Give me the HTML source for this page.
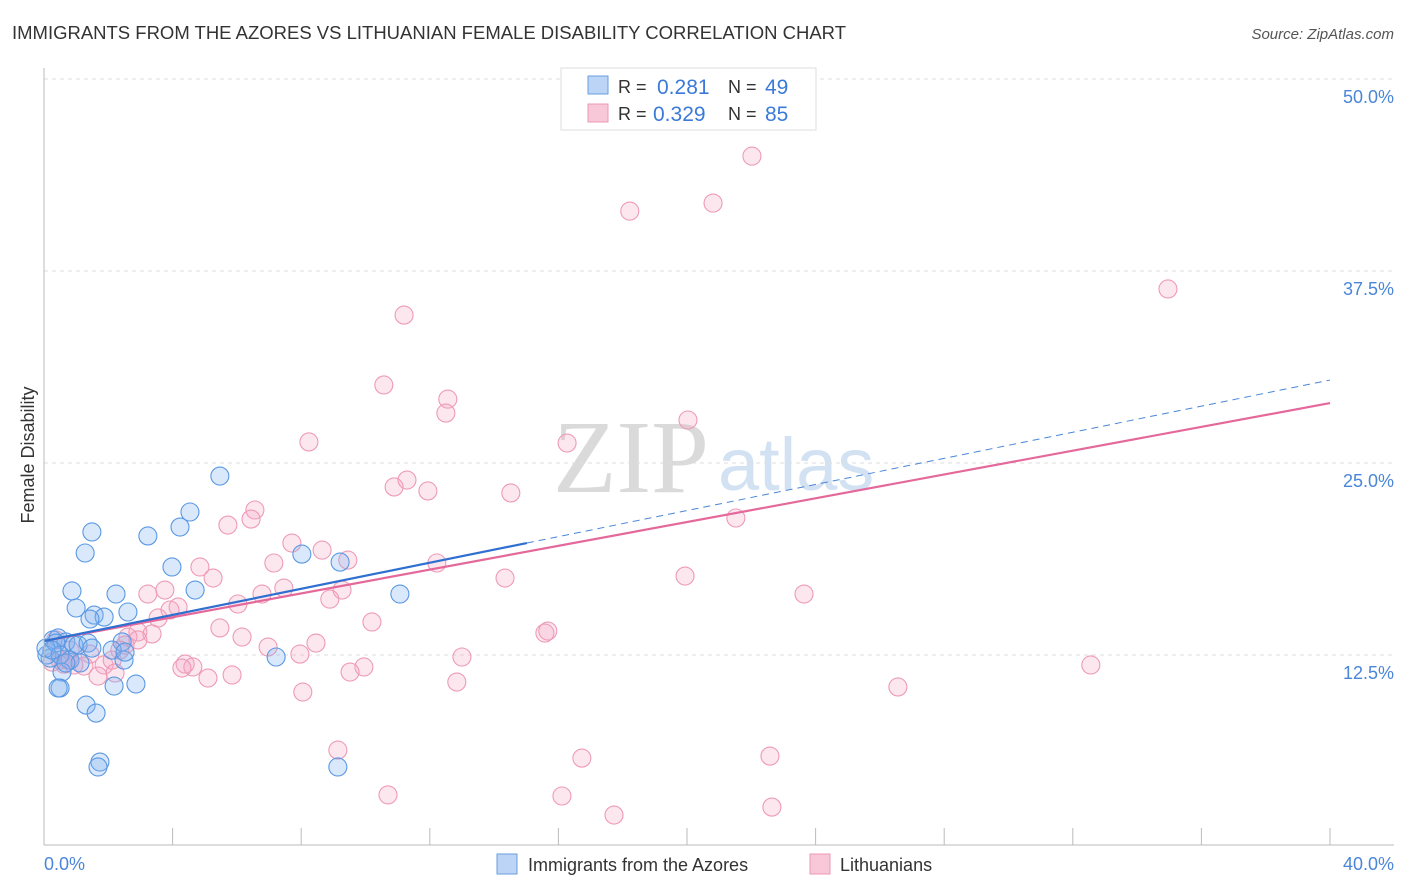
<!DOCTYPE html>
<html><head><meta charset="utf-8"><style>
body{margin:0;background:#fff;font-family:"Liberation Sans",sans-serif}
svg{display:block}
</style></head><body>
<svg id="chart" width="1406" height="892">
<text x="12" y="39" font-size="18" fill="#333" textLength="834" lengthAdjust="spacingAndGlyphs">IMMIGRANTS FROM THE AZORES VS LITHUANIAN FEMALE DISABILITY CORRELATION CHART</text>
<text x="1394" y="39" font-size="15" fill="#555" font-style="italic" text-anchor="end">Source: ZipAtlas.com</text>
<text x="553" y="492" font-size="104" fill="#dadada" font-family="Liberation Serif,serif">ZIP</text>
<text x="718" y="490" font-size="74" fill="#d2e2f3">atlas</text>
<text transform="translate(34,455) rotate(-90)" font-size="18" fill="#333" text-anchor="middle">Female Disability</text>
<g id="grid"></g><g id="pts"></g><g id="lines"></g>
<line x1="44" y1="845" x2="1394" y2="845" stroke="#bbb"/>
<line x1="44" y1="68" x2="44" y2="845" stroke="#bbb"/>
<text x="44" y="870" font-size="18" fill="#4a86d8">0.0%</text>
<text x="1394" y="870" font-size="18" fill="#4a86d8" text-anchor="end">40.0%</text>
<g>
<rect x="561" y="68" width="255" height="62" fill="#fff" stroke="#ddd"/>
<rect x="588" y="76" width="20" height="18" fill="#bcd4f5" stroke="#6a9ee0"/>
<rect x="588" y="104" width="20" height="18" fill="#f8c8d8" stroke="#ec98b4"/>
<text x="618" y="93" font-size="18" fill="#333">R =</text>
<text x="657" y="94" font-size="21" fill="#3b7ad8">0.281</text>
<text x="728" y="93" font-size="18" fill="#333">N =</text>
<text x="765" y="94" font-size="21" fill="#3b7ad8">49</text>
<text x="618" y="120" font-size="18" fill="#333">R =</text>
<text x="653" y="121" font-size="21" fill="#3b7ad8">0.329</text>
<text x="728" y="120" font-size="18" fill="#333">N =</text>
<text x="765" y="121" font-size="21" fill="#3b7ad8">85</text>
</g>
<g>
<rect x="497" y="854" width="20" height="20" fill="#bcd4f5" stroke="#6a9ee0"/>
<text x="528" y="871" font-size="18" fill="#333">Immigrants from the Azores</text>
<rect x="810" y="854" width="20" height="20" fill="#f8c8d8" stroke="#ec98b4"/>
<text x="840" y="871" font-size="18" fill="#333">Lithuanians</text>
</g>
</svg>
<script>
const yTicks=[12.5,25,37.5,50];
const yTickLabels=["12.5%","25.0%","37.5%","50.0%"];
const xTicks=[4,8,12,16,20,24,28,32,36,40];
const blueX=[5.47,4.54,4.23,1.49,3.23,1.28,8.02,3.98,9.21,0.87,2.24,4.70,11.07,1.00,2.61,1.56,1.87,1.43,0.28,0.44,0.68,0.93,1.06,1.37,2.43,2.12,0.81,1.12,2.49,0.19,0.09,7.22,0.56,0.50,0.44,2.18,2.86,1.31,1.62,1.74,1.68,9.14,0.37,0.06,0.50,0.25,0.68,2.52,1.49];
const blueY=[24.15,21.81,20.83,20.51,20.25,19.14,19.07,18.23,18.55,16.67,16.47,16.73,16.47,15.56,15.30,15.10,14.97,14.84,13.48,13.61,13.35,13.15,13.15,13.28,13.35,12.82,12.17,11.98,12.17,12.30,12.50,12.37,11.39,10.35,10.35,10.48,10.61,9.24,8.72,5.53,5.21,5.21,13.28,12.95,12.50,12.82,11.98,12.69,12.95];
const pinkX=[22.02,20.81,18.22,34.96,11.20,10.57,12.56,12.50,8.24,20.03,16.27,11.29,10.89,11.94,14.52,6.56,6.44,21.52,5.72,7.71,8.65,9.45,4.85,7.15,12.22,14.34,19.94,5.26,7.46,3.76,9.27,6.78,3.23,23.64,8.89,6.03,4.17,3.92,3.55,10.20,5.47,2.92,3.36,2.61,6.16,15.58,15.67,6.97,8.46,2.52,7.96,13.00,1.43,1.87,2.12,4.39,4.63,4.29,1.24,9.95,9.52,5.85,5.10,2.21,1.68,32.56,12.84,26.56,8.05,9.14,16.73,22.58,10.70,16.11,22.64,17.73,0.50,0.62,0.25,0.75,0.93,0.37,0.81,2.92,2.36];
const pinkY=[44.98,41.92,41.40,36.33,34.63,30.08,29.16,28.25,26.37,27.80,26.30,23.89,23.44,23.18,23.05,21.94,21.35,21.42,20.96,19.79,19.33,18.68,18.23,18.49,18.49,17.51,17.64,17.51,16.86,16.73,16.73,16.47,16.47,16.47,16.14,15.82,15.62,15.43,14.91,14.65,14.26,14.00,13.87,13.67,13.67,13.93,14.06,13.02,13.28,13.15,12.56,12.37,12.56,11.85,12.17,11.91,11.72,11.65,11.78,11.72,11.39,11.20,11.00,11.33,11.13,11.85,10.74,10.42,10.09,6.31,5.79,5.92,3.39,3.32,2.60,2.08,12.17,11.91,12.04,12.17,11.85,13.48,12.82,13.48,12.82];
const blueLine=[13.41,30.4];const blueSolidEnd=15.02;
const pinkLine=[13.41,28.9];
const NS="http://www.w3.org/2000/svg";
const sx=v=>44+v/40*1286, sy=v=>847-v*15.36;
function mk(t,a,p){const e=document.createElementNS(NS,t);for(const k in a)e.setAttribute(k,a[k]);p.appendChild(e);return e;}
const grid=document.getElementById('grid');
yTicks.forEach((t,i)=>{
 const l=mk('line',{x1:44,x2:1394,y1:sy(t),y2:sy(t),stroke:'#ddd','stroke-dasharray':'4,4'},grid);
 
 
 const tx=mk('text',{x:1394,y:sy(t)+24,'font-size':18,fill:'#4a86d8','text-anchor':'end'},grid);
 tx.textContent=yTickLabels[i];
 
 
});
xTicks.forEach(t=>{
 const l=mk('line',{x1:sx(t),x2:sx(t),y1:828,y2:845,stroke:'#bbb'},grid);
 
 
});
const pts=document.getElementById('pts');
pinkX.forEach((x,i)=>{
 const c=mk('circle',{cx:sx(x),cy:sy(pinkY[i]),r:9,fill:'rgba(246,170,196,0.28)',stroke:'#ee9ab6','stroke-width':1.1},pts);
 
 
});
blueX.forEach((x,i)=>{
 const c=mk('circle',{cx:sx(x),cy:sy(blueY[i]),r:9,fill:'rgba(130,178,238,0.3)',stroke:'#5a98e4','stroke-width':1.1},pts);
 
 
});
const lines=document.getElementById('lines');
const by=x=>blueLine[0]+(blueLine[1]-blueLine[0])*x/40;
let l1=mk('line',{x1:sx(blueSolidEnd),y1:sy(by(blueSolidEnd)),x2:sx(40),y2:sy(blueLine[1]),stroke:'#4a86d8','stroke-width':1,'stroke-dasharray':'7,5'},lines);


let l2=mk('line',{x1:sx(0),y1:sy(pinkLine[0]),x2:sx(40),y2:sy(pinkLine[1]),stroke:'#e4689a','stroke-width':2.2},lines);


let l3=mk('line',{x1:sx(0),y1:sy(blueLine[0]),x2:sx(blueSolidEnd),y2:sy(by(blueSolidEnd)),stroke:'#2f6fd0','stroke-width':2.2},lines);


</script>
</body></html>
